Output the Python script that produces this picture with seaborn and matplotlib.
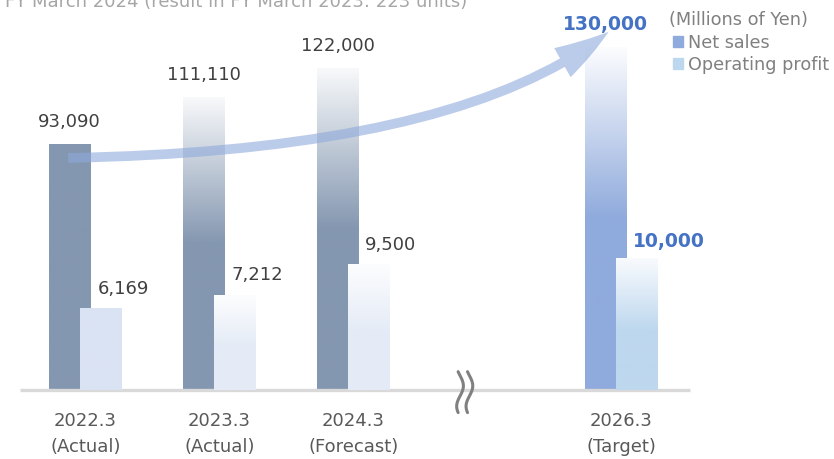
import numpy as np
import pandas as pd
import matplotlib
matplotlib.use('Agg')
import matplotlib.pyplot as plt
import seaborn as sns
from matplotlib.patches import FancyArrowPatch, Patch
from matplotlib.colors import to_rgb

# Данные
years = ['2022.3', '2023.3', '2024.3', '2026.3']
status = ['(Actual)', '(Actual)', '(Forecast)', '(Target)']
positions = [0, 1, 2, 4]
net_sales = [93090, 111110, 122000, 130000]
op_profit = [6169, 7212, 9500, 10000]

# Стиль столбцов
net_colors = ['#8497b0', '#8497b0', '#8497b0', '#8faadc']
net_fade = [False, True, True, True]
profit_colors = ['#dae3f3', '#e4ebf6', '#e4ebf6', '#bdd7ee']
profit_fade = [False, True, True, True]
highlight = [False, False, False, True]

sns.set_style('white')
plt.rcParams['font.family'] = ['DejaVu Sans']

W, H = 834, 459
base_px = 390                # линия оси от верха картинки
px_per_unit = 0.002632       # масштаб выручки
bar_w = 0.313
shift = 0.118

fig = plt.figure(figsize=(W / 100, H / 100), dpi=100)
ax = fig.add_axes([0, (H - base_px) / H, 1, base_px / H])
ax2 = ax.twinx()

df = pd.DataFrame({'pos': positions, 'net': net_sales, 'profit': op_profit})
sns.barplot(data=df, x='pos', y='net', native_scale=True, width=bar_w,
            errorbar=None, ax=ax)
sns.barplot(data=df, x='pos', y='profit', native_scale=True, width=bar_w,
            errorbar=None, ax=ax2)


def gradient_bar(axis, patch, color, fade, end_mix, solid=0.5):
    # градиент к белому, без прозрачности
    x, w, h = patch.get_x(), patch.get_width(), patch.get_height()
    n = 200
    f = np.linspace(0, 1, n)
    k = np.ones(n)
    if fade:
        m = f > solid
        k[m] = 1 - (1 - end_mix) * (f[m] - solid) / (1 - solid)
    rgb = np.array(to_rgb(color))
    img = np.ones((n, 1, 3))
    img[:, 0, :] = k[:, None] * rgb + (1 - k[:, None]) * 1.0
    axis.imshow(img, extent=[x, x + w, 0, h], origin='lower', aspect='auto',
                zorder=2, interpolation='bilinear')
    patch.set_visible(False)


for i, p in enumerate(ax.patches):
    p.set_x(p.get_x() - shift)
    gradient_bar(ax, p, net_colors[i], net_fade[i], 0.06 if i < 3 else 0.03)
for i, p in enumerate(ax2.patches):
    p.set_x(p.get_x() + shift)
    gradient_bar(ax2, p, profit_colors[i], profit_fade[i], 0.1, solid=0.45)

ymax = base_px / px_per_unit
ax.set_xlim(-85.5 / 134, (W - 85.5) / 134)
ax.set_ylim(0, ymax)
ax2.set_ylim(0, ymax / 5)

for a in (ax, ax2):
    a.set_ylabel('')
    a.set_xlabel('')
    a.set_yticks([])
    for s in a.spines.values():
        s.set_visible(False)

# Линия оси
ax.hlines(0, positions[0] - 0.49, positions[-1] + 0.51, color='#d9d9d9',
          lw=2.4, zorder=3, clip_on=False)

# Подписи категорий
ax.set_xticks(positions)
ax.set_xticklabels([f'{y}\n{s}' for y, s in zip(years, status)],
                   fontsize=13, color='#595959', linespacing=1.55)
ax.tick_params(axis='x', length=0, pad=16)
ax2.tick_params(axis='x', length=0)

# Значения
for i, (p, v) in enumerate(zip(positions, net_sales)):
    ax.annotate(f'{v:,}', xy=(p - shift, v), xytext=(0, 18),
                textcoords='offset pixels', ha='center', va='baseline',
                fontsize=13.5 if highlight[i] else 13,
                fontweight='bold' if highlight[i] else 'normal',
                color='#4472c4' if highlight[i] else '#404040', zorder=5)
for i, (p, v) in enumerate(zip(positions, op_profit)):
    ax2.annotate(f'{v:,}', xy=(p + shift, v), xytext=(-4, 11 if highlight[i] else 15),
                 textcoords='offset pixels', ha='left', va='baseline',
                 fontsize=13.5 if highlight[i] else 13,
                 fontweight='bold' if highlight[i] else 'normal',
                 color='#4472c4' if highlight[i] else '#404040', zorder=5)

# Стрелка роста
arrow = FancyArrowPatch(
    (positions[0] - 0.15, net_sales[0] * 0.947),
    (positions[-1] - 0.08, net_sales[-1] * 1.052),
    connectionstyle='angle3,angleA=1,angleB=39',
    arrowstyle='simple,head_length=40,head_width=24,tail_width=7',
    color='#8faadc', alpha=0.6, lw=0, zorder=6, clip_on=False)
ax.add_patch(arrow)

# Знак разрыва оси
t = np.linspace(0, 1, 50)
brk = 2.83
for dx in (-0.035, 0.035):
    xs = brk + dx + 0.025 * np.sin(2 * np.pi * t - 0.6)
    ys = ymax * (0.047 - 0.105 * t)
    ax.plot(xs, ys, color='#808080', lw=2.2, zorder=6, clip_on=False,
            solid_capstyle='round')

# Заголовок (обрезан сверху) и легенда
fig.text(5 / W, 1 - 7 / H, 'FY March 2024 (result in FY March 2023: 223 units)',
         fontsize=13, color='#a6a6a6', va='baseline', ha='left')
fig.text(669 / W, 1 - 20 / H, '(Millions of Yen)', fontsize=12.8,
         color='#808080', va='center', ha='left')
handles = [Patch(color='#8faadc'), Patch(color='#bdd7ee')]
fig.legend(handles, ['Net sales', 'Operating profit'], loc='upper left',
           bbox_to_anchor=(673 / W, 1 - 34 / H), frameon=False, fontsize=12.7,
           labelcolor='#808080', handlelength=0.55, handleheight=0.55,
           handletextpad=0.3, labelspacing=0.2, borderpad=0, borderaxespad=0)

fig.savefig('out.png', dpi=100)
